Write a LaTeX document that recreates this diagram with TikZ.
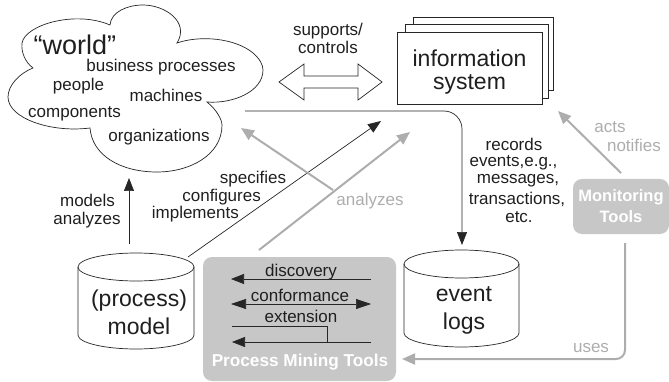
\documentclass[tikz,border=0pt]{standalone}
\usepackage{fontspec}
\setmainfont{Liberation Sans}
\usetikzlibrary{arrows.meta}
\definecolor{gl}{gray}{0.68}
\definecolor{gb}{gray}{0.78}
\definecolor{tx}{gray}{0.12}
\tikzset{x=1pt,y=-1pt,
 lab/.style={font=\fontsize{17}{18}\selectfont,text=tx,align=center,inner sep=0pt},
 big/.style={font=\fontsize{23}{28}\selectfont,text=tx,align=center,inner sep=0pt},
 glab/.style={font=\fontsize{17}{18}\selectfont,text=gl,align=center,inner sep=0pt},
 wlab/.style={font=\fontsize{16.5}{21}\selectfont\bfseries,text=white,align=center,inner sep=0pt},
 shapeline/.style={draw=black!85,line width=0.7pt,fill=white},
 conn/.style={draw=black!85,line width=0.7pt,-{Triangle[length=13pt,width=10pt]}},
 gconn/.style={draw=gl,line width=2pt,-{Triangle[length=13pt,width=11pt]}},
 panel/.style={fill=gb,rounded corners=9pt,draw=none},
 plain/.style={draw=black!85,line width=0.7pt},
}
\newcommand{\cyl}[4]{% x1 x2 ytop ybottom (ellipse half height 14)
 \path[shapeline] (#1,#3+14)
   .. controls (#1,#3+6.3) and (#1+0.225*#2-0.225*#1,#3) .. (#1/2+#2/2,#3)
   .. controls (#2-0.225*#2+0.225*#1,#3) and (#2,#3+6.3) .. (#2,#3+14)
   -- (#2,#4-14)
   .. controls (#2,#4-6.3) and (#2-0.225*#2+0.225*#1,#4) .. (#1/2+#2/2,#4)
   .. controls (#1+0.225*#2-0.225*#1,#4) and (#1,#4-6.3) .. (#1,#4-14) -- cycle;
 \path[plain] (#1,#3+14)
   .. controls (#1,#3+21.7) and (#1+0.225*#2-0.225*#1,#3+28) .. (#1/2+#2/2,#3+28)
   .. controls (#2-0.225*#2+0.225*#1,#3+28) and (#2,#3+21.7) .. (#2,#3+14);
}
\begin{document}
\begin{tikzpicture}
\useasboundingbox (0,0) rectangle (669,382);
% cloud
\path[shapeline] (177,43)
 .. controls (200,35) and (235,38) .. (253,53)
 .. controls (260,59) and (263,65) .. (263,70)
 .. controls (263,92) and (232,104) .. (207,102)
 .. controls (217,110) and (222,120) .. (222,125)
 .. controls (222,155) and (190,172) .. (157,172)
 .. controls (120,172) and (92,155) .. (90,128)
 .. controls (50,133) and (8,118) .. (8,97)
 .. controls (8,85) and (20,73) .. (33,68)
 .. controls (25,62) and (21,52) .. (22,43)
 .. controls (25,25) and (75,10) .. (110,25)
 .. controls (111,12) and (127,5) .. (143,5)
 .. controls (165,5) and (190,22) .. (177,43) -- cycle;
\node[inner sep=0pt,font=\fontsize{27}{27}\selectfont,text=tx] (world) at (75,45) {“world”};
\node[lab] (bp) at (161,67) {business processes};
\node[lab] (people) at (78.5,86) {people};
\node[lab] (mach) at (166,95) {machines};
\node[lab] (comp) at (74.5,114) {components};
\node[lab] (org) at (159,137) {organizations};
% double arrow
\path[shapeline] (279,82) -- (304,64) -- (304,76) -- (358,76) -- (358,64) -- (382,82) -- (358,100) -- (358,88) -- (304,88) -- (304,100) -- cycle;
\node[lab] (sup) at (328,38) {supports/\\controls};
% information system
\path[shapeline] (413,17) rectangle (553,90);
\path[shapeline] (405,24) rectangle (548,98);
\path[shapeline] (397,32) rectangle (542,104);
\node[inner sep=0pt,font=\fontsize{23}{23}\selectfont,align=center,text=tx] (is) at (469.5,72) {information\\system};
% cylinders
\cyl{78}{194}{253}{349}
\node[big] (pm) at (139,312) {(process)\\model};
\cyl{404}{519}{250}{347}
\node[big] (el) at (464,310) {event\\logs};
% panels
\node[panel,minimum width=193pt,minimum height=124pt,inner sep=0pt] (pmt) at (299.5,319) {};
\node[wlab,font=\fontsize{17.2}{21}\selectfont\bfseries] (pmtl) at (300,362) {Process Mining Tools};
\node[panel,minimum width=96pt,minimum height=55pt,inner sep=0pt] (mon) at (621,206.5) {};
\node[wlab] (monl) at (621,206.5) {Monitoring\\Tools};
% coordinates
\coordinate (w1) at (245,111); \coordinate (w2) at (462,111); \coordinate (w3) at (462,245);
\coordinate (ma) at (129,244); \coordinate (mb) at (129,178);
\coordinate (sa) at (188,257); \coordinate (sb) at (381,121);
\coordinate (ga) at (259,250); \coordinate (gb) at (410,132);
\coordinate (aa) at (333,190); \coordinate (ab) at (241,128);
\coordinate (na) at (621,173); \coordinate (nb) at (558,111);
\coordinate (ua) at (625,243); \coordinate (ub) at (625,359); \coordinate (uc) at (402,359);
\coordinate (d1) at (371,279); \coordinate (d2) at (231,279);
\coordinate (c1) at (371,304); \coordinate (c2) at (231,304);
\coordinate (e0) at (232,326); \coordinate (e1) at (327,326); \coordinate (e2) at (327,342);
\coordinate (e3) at (371,342); \coordinate (e4) at (232,342);
% connectors
\draw[conn,rounded corners=18pt] (w1) -- (w2) -- (w3);
\draw[conn] (ma) -- (mb);
\draw[conn] (sa) -- (sb);
\draw[gconn] (ga) -- (gb);
\draw[gconn] (aa) -- (ab);
\draw[gconn] (na) -- (nb);
\draw[gconn,rounded corners=9pt] (ua) -- (ub) -- (uc);
\draw[conn] (d1) -- (d2);
\draw[conn,{Triangle[length=15pt,width=10pt]}-{Triangle[length=15pt,width=10pt]}] (c2) -- (c1);
\draw[plain] (e0) -- (e1) -- (e2);
\draw[conn] (e3) -- (e4);
% labels
\node[lab] (mo) at (87.5,200) {models};
\node[lab] (a2) at (87,220) {analyzes};
\node[lab] (sp) at (253,179) {specifies};
\node[lab,anchor=east] (cf2) at (261,197) {configures};
\node[lab,anchor=east] (im) at (239,214) {implements};
\node[glab] (an2) at (370,201) {analyzes};
\node[glab] (act) at (610,127) {acts};
\node[glab] (not) at (634,145) {notifies};
\node[glab] (use) at (591,348) {uses};
\node[lab] (rec) at (514,144.5) {records};
\node[lab] (ev) at (513.5,162.5) {events,e.g.,};
\node[lab] (ms) at (518,181) {messages,};
\node[lab] (tr) at (517,199) {transactions,};
\node[lab] (et) at (519,217) {etc.};
\node[lab,anchor=base] (dl) at (301,276) {discovery};
\node[lab,anchor=base] (cl) at (300,301) {conformance};
\node[lab,anchor=base] (xl) at (301,322) {extension};
\end{tikzpicture}
\end{document}
